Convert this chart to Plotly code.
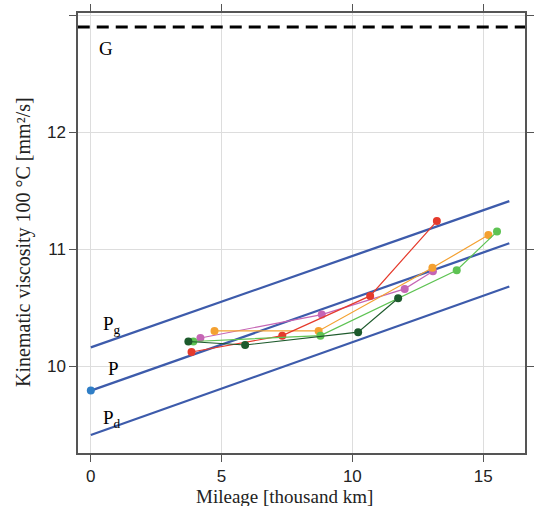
import plotly.graph_objects as go

# Reference lines (thousand km, mm²/s)
ref_x = [0, 16]
Pg_y = [10.16, 11.41]
P_y = [9.79, 11.05]
Pd_y = [9.41, 10.68]
G_level = 12.9
P0_x = [0]
P0_y = [9.79]

# Measured series
red_x = [3.85, 7.32, 10.68, 13.23]
red_y = [10.12, 10.26, 10.60, 11.24]
orange_x = [4.73, 8.71, 13.06, 15.20]
orange_y = [10.30, 10.30, 10.84, 11.12]
purple_x = [4.19, 8.83, 12.00, 13.08]
purple_y = [10.24, 10.44, 10.66, 10.81]
lgreen_x = [3.92, 8.78, 13.99, 15.53]
lgreen_y = [10.21, 10.26, 10.82, 11.15]
dgreen_x = [3.73, 5.90, 10.22, 11.75]
dgreen_y = [10.21, 10.18, 10.29, 10.58]

blue = "#3d5bab"
fig = go.Figure()

fig.add_trace(go.Scatter(x=[-0.5, 16.6], y=[G_level, G_level], mode="lines",
                         line=dict(color="black", width=3, dash="12px,7px"), showlegend=False))
for yy in (Pg_y, P_y, Pd_y):
    fig.add_trace(go.Scatter(x=ref_x, y=yy, mode="lines",
                             line=dict(color=blue, width=2.3), showlegend=False))
fig.add_trace(go.Scatter(x=P0_x, y=P0_y, mode="markers",
                         marker=dict(color="#2f7ec6", size=8), showlegend=False))

series = [
    (purple_x, purple_y, "#c565b5"),
    (orange_x, orange_y, "#f4a131"),
    (red_x, red_y, "#e53a2c"),
    (lgreen_x, lgreen_y, "#5ec353"),
    (dgreen_x, dgreen_y, "#1d5a2c"),
]
for xs, ys, c in series:
    fig.add_trace(go.Scatter(x=xs, y=ys, mode="lines+markers",
                             line=dict(color=c, width=1.2),
                             marker=dict(color=c, size=8), showlegend=False))

serif = "Liberation Serif, Times New Roman, serif"
ann = dict(showarrow=False, font=dict(family=serif, size=19, color="black"))
fig.add_annotation(x=0.58, y=12.72, text="G", **ann)
fig.add_annotation(x=0.8, y=10.35, text="P<sub>g</sub>", **ann)
fig.add_annotation(x=0.86, y=9.98, text="P", **ann)
fig.add_annotation(x=0.8, y=9.55, text="P<sub>d</sub>", **ann)

# Axis titles
fig.add_annotation(xref="paper", yref="paper", x=0.4627, y=-0.099, xanchor="center", yanchor="middle",
                   text="Mileage [thousand km]", showarrow=False,
                   font=dict(family=serif, size=19, color="#222"))
fig.add_annotation(xref="paper", yref="paper", x=-0.1206, y=0.48, xanchor="center", yanchor="middle",
                   text="Kinematic viscosity 100 °C [mm²/s]", textangle=-90, showarrow=False,
                   font=dict(family=serif, size=20, color="#222"))

axcol = "#555555"
fig.update_layout(
    width=536, height=506,
    margin=dict(l=78, r=2, t=13, b=53),
    plot_bgcolor="white", paper_bgcolor="white",
    font=dict(family="Liberation Sans, Arial, sans-serif", size=17, color="#222"),
)
fig.update_xaxes(range=[-0.49, 16.6], tickvals=[0, 5, 10, 15],
                 showgrid=True, gridcolor="#dddddd", gridwidth=1,
                 showline=True, linecolor=axcol, linewidth=1.5, mirror="ticks",
                 ticks="outside", ticklen=7, tickcolor=axcol, zeroline=False,
                 ticklabelstandoff=0)
fig.update_yaxes(range=[9.256, 13.02], tickvals=[10, 11, 12, 13], ticktext=["10", "11", "12", ""],
                 showgrid=True, gridcolor="#dddddd", gridwidth=1,
                 showline=True, linecolor=axcol, linewidth=1.5, mirror="ticks",
                 ticks="outside", ticklen=7, tickcolor=axcol, zeroline=False)

fig.write_html("out.html")
